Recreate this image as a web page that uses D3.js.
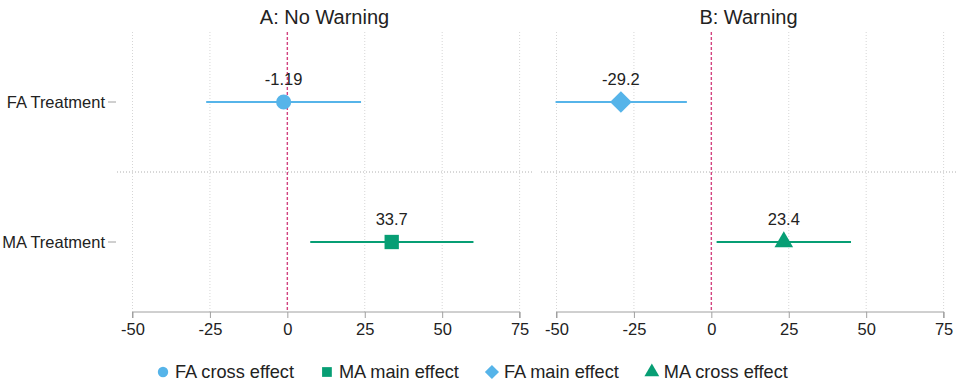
<!DOCTYPE html>
<html>
<head>
<meta charset="utf-8">
<script src="https://cdn.jsdelivr.net/npm/d3@7"></script>
<style>
  html, body { margin: 0; padding: 0; background: #fff; }
  svg { display: block; font-family: "Liberation Sans", Arial, Helvetica, sans-serif; }
</style>
</head>
<body>
<svg id="chart" width="960" height="383"></svg>
<script>
// Coefficient plot: treatment effects with confidence intervals, two panels.
const panelTitles = ["A: No Warning", "B: Warning"];
const rowLabels = ["FA Treatment", "MA Treatment"];
const seriesNames = ["FA cross effect", "MA main effect", "FA main effect", "MA cross effect"];
const seriesPanel = [0, 0, 1, 1];
const seriesRow = [0, 1, 0, 1];
const estimates = [-1.19, 33.7, -29.2, 23.4];
const ciLow = [-26.2, 7.4, -50.3, 1.7];
const ciHigh = [23.8, 60.1, -7.9, 45.1];
const xTickValues = [-50, -25, 0, 25, 50, 75];

// Presentation
const seriesColors = ["#56B4E9", "#079E74", "#56B4E9", "#079E74"];
// the diamond is a square turned by 45 degrees
const seriesSymbols = [d3.symbolCircle, d3.symbolSquare, d3.symbolSquare, d3.symbolTriangle];
const seriesRotate = [0, 0, 45, 0];
const markerSizes = [180, 205, 235, 150];
const legendSizes = [85, 95, 100, 95];

const svg = d3.select("#chart");
const panelRanges = [[117, 532], [541, 956]];
const plotTop = 32, plotBottom = 312;
const xDomain = [-55, 79];

const y = d3.scaleBand().domain(rowLabels).range([plotTop, plotBottom]);

panelTitles.forEach((title, p) => {
  const x = d3.scaleLinear().domain(xDomain).range(panelRanges[p]);
  const g = svg.append("g");

  // vertical dotted gridlines (zero is drawn as the reference line)
  g.selectAll(".vgrid").data(xTickValues.filter(v => v !== 0)).join("line")
    .attr("x1", d => x(d)).attr("x2", d => x(d))
    .attr("y1", plotTop).attr("y2", plotBottom)
    .attr("stroke", "#d6d6d6").attr("stroke-width", 1)
    .attr("stroke-dasharray", "1,2");

  // dotted separator between the two rows
  g.append("line")
    .attr("x1", panelRanges[p][0]).attr("x2", panelRanges[p][1])
    .attr("y1", y(rowLabels[1])).attr("y2", y(rowLabels[1]))
    .attr("stroke", "#b0b0b0").attr("stroke-width", 1)
    .attr("stroke-dasharray", "1,2");

  // reference line at zero
  g.append("line")
    .attr("x1", x(0)).attr("x2", x(0))
    .attr("y1", plotTop).attr("y2", plotBottom)
    .attr("stroke", "#D2437F").attr("stroke-width", 1.4)
    .attr("stroke-dasharray", "3,2");

  // x axis
  const axis = d3.axisBottom(x).tickValues(xTickValues).tickSize(6).tickPadding(5)
    .tickFormat(d3.format("d"));
  const ax = g.append("g").attr("transform", `translate(0,${plotBottom})`).call(axis);
  ax.select(".domain")
    .attr("d", `M${x(xTickValues[0])},6V0H${x(xTickValues[xTickValues.length - 1])}V6`)
    .attr("stroke", "#a0a0a0");
  ax.selectAll(".tick line").attr("stroke", "#a0a0a0");
  ax.selectAll(".tick text").attr("font-size", 16.5).attr("fill", "#222")
    .attr("font-family", "Liberation Sans, Arial, sans-serif")
    .text(d => d < 0 ? "-" + Math.abs(d) : d);

  // panel title
  g.append("text")
    .attr("x", (panelRanges[p][0] + panelRanges[p][1]) / 2)
    .attr("y", 24)
    .attr("text-anchor", "middle")
    .attr("font-size", 20).attr("fill", "#222")
    .text(title);

  // series belonging to this panel
  const idx = d3.range(seriesNames.length).filter(i => seriesPanel[i] === p);
  idx.forEach(i => {
    const cy = y(rowLabels[seriesRow[i]]) + y.bandwidth() / 2;
    g.append("line")
      .attr("x1", x(ciLow[i])).attr("x2", x(ciHigh[i]))
      .attr("y1", cy).attr("y2", cy)
      .attr("stroke", seriesColors[i]).attr("stroke-width", 2);
    g.append("path")
      .attr("d", d3.symbol().type(seriesSymbols[i]).size(markerSizes[i])())
      .attr("transform", `translate(${x(estimates[i])},${cy}) rotate(${seriesRotate[i]})`)
      .attr("fill", seriesColors[i]);
    g.append("text")
      .attr("x", x(estimates[i])).attr("y", cy - 17)
      .attr("text-anchor", "middle")
      .attr("font-size", 16.5).attr("fill", "#222")
      .text(String(estimates[i]));
  });
});

// y axis (row labels) on the left panel
const yAxisG = svg.append("g");
rowLabels.forEach(r => {
  const cy = y(r) + y.bandwidth() / 2;
  yAxisG.append("line")
    .attr("x1", 108).attr("x2", 116).attr("y1", cy).attr("y2", cy)
    .attr("stroke", "#a0a0a0");
  yAxisG.append("text")
    .attr("x", 105).attr("y", cy).attr("dy", "0.35em")
    .attr("text-anchor", "end")
    .attr("font-size", 16.5).attr("fill", "#222")
    .text(r);
});

// legend
const legend = svg.append("g");
let cursor = 158;
const legendY = 372;
seriesNames.forEach((name, i) => {
  legend.append("path")
    .attr("d", d3.symbol().type(seriesSymbols[i]).size(legendSizes[i])())
    .attr("transform", `translate(${cursor + 5},${legendY}) rotate(${seriesRotate[i]})`)
    .attr("fill", seriesColors[i]);
  const t = legend.append("text")
    .attr("x", cursor + 17).attr("y", legendY).attr("dy", "0.35em")
    .attr("font-size", 18.2).attr("fill", "#222")
    .text(name);
  cursor += 17 + t.node().getComputedTextLength() + 28;
});
</script>
</body>
</html>
